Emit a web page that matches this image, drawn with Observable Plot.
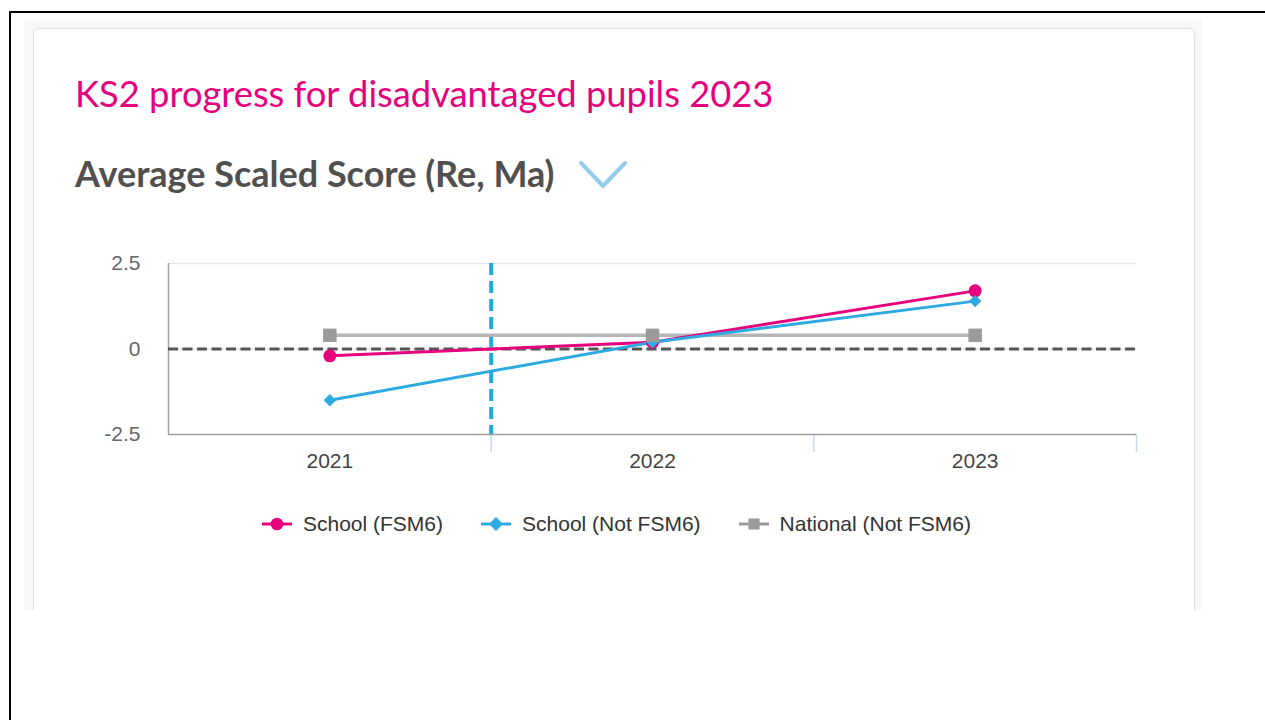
<!DOCTYPE html>
<html>
<head>
<meta charset="utf-8">
<script src="https://cdn.jsdelivr.net/npm/d3@7"></script>
<script src="https://cdn.jsdelivr.net/npm/@observablehq/plot@0.6"></script>
<style>
  html, body { margin: 0; padding: 0; background: #fff; }
  body { width: 1265px; height: 720px; position: relative; overflow: hidden; font-family: "Liberation Sans", Arial, sans-serif; }
  #frameTop { position: absolute; left: 9px; top: 11px; width: 1256px; height: 2px; background: #000; }
  #frameLeft { position: absolute; left: 9px; top: 11px; width: 2px; height: 709px; background: #000; }
  #outer { position: absolute; left: 24px; top: 20px; width: 1178px; height: 590px; background: #f8f8f8; overflow: hidden; }
  #card { position: absolute; left: 9px; top: 8px; width: 1160px; height: 700px; background: #fff; border: 1px solid #e2e2e2; border-radius: 6px; box-shadow: 0 0 2px rgba(0,0,0,0.05); }
  #title { position: absolute; left: 75px; top: 75px; font-family: Lato, sans-serif; font-weight: 400; font-size: 36.3px; line-height: 36px; color: #e6007e; white-space: nowrap; }
  #subtitle { position: absolute; left: 75px; top: 155px; font-family: Lato, sans-serif; font-weight: 700; font-size: 36px; line-height: 36px; color: #505050; white-space: nowrap; }
  #chevron { position: absolute; left: 576px; top: 158px; }
  #chart { position: absolute; left: 90px; top: 240px; }
  #legend { position: absolute; left: 262px; top: 512px; display: flex; align-items: center; font-family: "Liberation Sans", Arial, sans-serif; font-size: 21px; color: #333; white-space: nowrap; }
  .item { display: flex; align-items: center; margin-right: 38px; }
  .item svg { margin-right: 11px; }
</style>
</head>
<body>
<div id="frameTop"></div>
<div id="frameLeft"></div>
<div id="outer"><div id="card"></div></div>
<div id="title">KS2 progress for disadvantaged pupils 2023</div>
<div id="subtitle">Average Scaled Score (Re, Ma)</div>
<svg id="chevron" width="56" height="34"><polyline points="5,5 27,28 49,5" fill="none" stroke="#93cdee" stroke-width="4" stroke-linecap="round" stroke-linejoin="round"/></svg>
<div id="chart"></div>
<div id="legend"></div>
<script>
// ---- data ----
const years = [2021, 2022, 2023];
const schoolFSM6 = [-0.2, 0.2, 1.7];
const schoolNotFSM6 = [-1.5, 0.2, 1.4];
const nationalNotFSM6 = [0.4, 0.4, 0.4];
const seriesNames = ["School (FSM6)", "School (Not FSM6)", "National (Not FSM6)"];
const seriesColors = ["#e6007e", "#2eaae1", "#9b9b9b"];
const lineColors = ["#e6007e", "#2eaae1", "#b5b5b5"];
const seriesSymbols = ["circle", "diamond2", "square"];
const yTicks = [-2.5, 0, 2.5];
const bandEdges = [2020.5, 2021.5, 2022.5, 2023.5];
const dividerYear = [2021.5];

const seriesValues = [schoolFSM6, schoolNotFSM6, nationalNotFSM6];
const rows = [];
seriesValues.forEach((vals, i) => vals.forEach((v, j) => rows.push({series: seriesNames[i], year: years[j], value: v})));

const markR = {"School (FSM6)": 6.5, "School (Not FSM6)": 5.6, "National (Not FSM6)": 7.6};
const lineW = {"School (FSM6)": 3, "School (Not FSM6)": 3, "National (Not FSM6)": 3.5};

const seriesMarks = [];
[2, 0, 1].forEach(i => {
  const d = rows.filter(r => r.series === seriesNames[i]);
  seriesMarks.push(Plot.line(d, {x: "year", y: "value", stroke: lineColors[i], strokeWidth: lineW[seriesNames[i]]}));
});
[0, 1, 2].forEach(i => {
  const d = rows.filter(r => r.series === seriesNames[i]);
  seriesMarks.push(Plot.dot(d, {x: "year", y: "value", fill: seriesColors[i], stroke: "none", symbol: seriesSymbols[i], r: markR[seriesNames[i]]}));
});

const chart = Plot.plot({
  width: 1080,
  height: 250,
  marginLeft: 78,
  marginRight: 34,
  marginTop: 23,
  marginBottom: 56,
  style: {fontFamily: "'Liberation Sans', Arial, sans-serif", fontSize: "21px", background: "transparent", overflow: "visible"},
  x: {type: "linear", domain: d3.extent(bandEdges), label: null},
  y: {domain: d3.extent(yTicks), label: null},
  marks: [
    Plot.gridY(yTicks.filter(v => v > d3.min(yTicks)), {stroke: "#e6e6e6", strokeOpacity: 1, strokeWidth: 1.5}),
    Plot.axisY(yTicks, {tickSize: 0, tickPadding: 28, tickFormat: d => String(d), fill: "#666", fontSize: 21, label: null}),
    Plot.axisX(bandEdges.slice(1), {tickSize: 18, tickFormat: () => "", stroke: "#ccd6eb", strokeWidth: 1.5, strokeOpacity: 1, label: null}),
    Plot.axisX(years, {tickSize: 0, tickPadding: 19, tickFormat: d => String(d), fill: "#444", fontSize: 21, label: null}),
    Plot.ruleX([d3.min(bandEdges)], {stroke: "#a0a0a0", strokeWidth: 1.5}),
    Plot.ruleY([d3.min(yTicks)], {stroke: "#a0a0a0", strokeWidth: 1.5}),
    Plot.ruleY([0], {stroke: "#555", strokeWidth: 3, strokeDasharray: "10,4.5"}),
    Plot.ruleX(dividerYear, {stroke: "#1fa8e0", strokeWidth: 4, strokeDasharray: "12,6"}),
    ...seriesMarks
  ]
});
document.getElementById("chart").appendChild(chart);

// ---- legend ----
const legend = d3.select("#legend");
seriesNames.forEach((name, i) => {
  const item = legend.append("div").attr("class", "item");
  const svg = item.append("svg").attr("width", 30).attr("height", 20);
  svg.append("line").attr("x1", 0).attr("x2", 30).attr("y1", 10).attr("y2", 10)
     .attr("stroke", seriesColors[i]).attr("stroke-width", 3);
  const sym = {circle: d3.symbolCircle, diamond2: d3.symbolDiamond2, square: d3.symbolSquare}[seriesSymbols[i]];
  svg.append("path").attr("transform", "translate(15,10)")
     .attr("d", d3.symbol(sym, Math.PI * 6.3 * 6.3)()).attr("fill", seriesColors[i]);
  item.append("span").text(name);
});
</script>
</body>
</html>
